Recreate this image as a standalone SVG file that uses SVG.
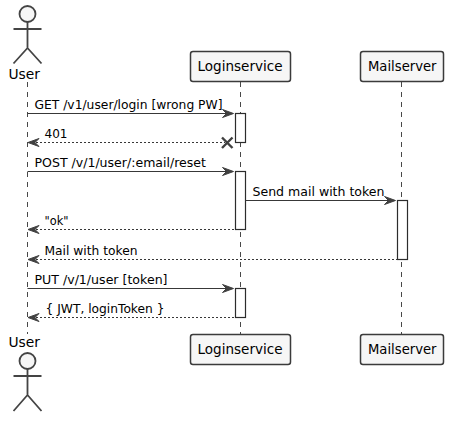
<svg xmlns="http://www.w3.org/2000/svg" width="453" height="421" viewBox="0 0 453 421">
<style>
text{font-family:"DejaVu Sans",sans-serif;fill:#000}
.p{font-size:14px}
.m{font-size:13px}
.life{stroke:#333;stroke-width:.9;stroke-dasharray:5,5;fill:none}
.pb{fill:#f6f6f6;stroke:#3b3b3b;stroke-width:1.5}
.act{fill:#fff;stroke:#2c2c2c;stroke-width:1.2}
.fig{fill:none;stroke:#444;stroke-width:1.8}
.head{fill:#f6f6f6;stroke:#444;stroke-width:1.8}
.sol{stroke:#383838;stroke-width:1.1;fill:none}
.dash{stroke:#383838;stroke-width:1;stroke-dasharray:2,2;fill:none}
.ah{fill:#404040;stroke:#404040;stroke-width:1}
</style>
<defs>
<path id="r" d="M-11,-4 L0,0 L-11,4 L-7,0 Z"/>
<path id="l" d="M11,-4 L0,0 L11,4 L7,0 Z"/>
</defs>
<g id="lifelines">
<path class="life" d="M27.5,82V334M240.5,82V334M401.5,82V334"/>
</g>
<g id="activations">
<rect class="act" x="235.5" y="113.5" width="10" height="29"/>
<rect class="act" x="235.5" y="171.5" width="10" height="58"/>
<rect class="act" x="397.5" y="200.5" width="10" height="59"/>
<rect class="act" x="235.5" y="288.5" width="10" height="29"/>
</g>
<g id="connectors">
<path class="sol" d="M27.5,113.5H233"/><use href="#r" class="ah" x="233.5" y="113.5"/>
<path class="dash" d="M32,142.5H225"/><use href="#l" class="ah" x="28" y="142.5"/>
<path d="M222,137.5L232.5,148M232.5,137.5L222,148" fill="none" stroke="#404040" stroke-width="2.4"/>
<path class="sol" d="M27.5,171.5H233"/><use href="#r" class="ah" x="233.5" y="171.5"/>
<path class="sol" d="M245.5,200.5H395"/><use href="#r" class="ah" x="395.5" y="200.5"/>
<path class="dash" d="M32,229.5H235.5"/><use href="#l" class="ah" x="28" y="229.5"/>
<path class="dash" d="M32,259.5H397.5"/><use href="#l" class="ah" x="28" y="259.5"/>
<path class="sol" d="M27.5,288.5H233"/><use href="#r" class="ah" x="233.5" y="288.5"/>
<path class="dash" d="M32,317.5H235.5"/><use href="#l" class="ah" x="28" y="317.5"/>
</g>
<g id="labels">
<text class="m" x="34.5" y="108.5" textLength="188" lengthAdjust="spacingAndGlyphs">GET /v1/user/login [wrong PW]</text>
<text class="m" x="44.5" y="137.5" textLength="23" lengthAdjust="spacingAndGlyphs">401</text>
<text class="m" x="34.5" y="166.5" textLength="171.5" lengthAdjust="spacingAndGlyphs">POST /v/1/user/:email/reset</text>
<text class="m" x="252.5" y="195.5" textLength="132" lengthAdjust="spacingAndGlyphs">Send mail with token</text>
<text class="m" x="44.5" y="224.5" textLength="24" lengthAdjust="spacingAndGlyphs">"ok"</text>
<text class="m" x="44.5" y="254.5" textLength="93" lengthAdjust="spacingAndGlyphs">Mail with token</text>
<text class="m" x="34.5" y="283.5" textLength="133" lengthAdjust="spacingAndGlyphs">PUT /v/1/user [token]</text>
<text class="m" x="45.5" y="312.5" textLength="119" lengthAdjust="spacingAndGlyphs">{ JWT, loginToken }</text>
</g>
<g id="user-top">
<circle class="head" cx="27.5" cy="14" r="8"/>
<path class="fig" d="M27.5,22V48M13.5,29H41.5M27.5,48L13.5,63.5M27.5,48L41.5,63.5"/>
<text class="p" x="8.5" y="79" textLength="31.5" lengthAdjust="spacingAndGlyphs">User</text>
</g>
<g id="loginservice-top">
<rect class="pb" x="190.5" y="51.5" width="100" height="30" rx="2.5"/>
<text class="p" x="197.5" y="71" textLength="85" lengthAdjust="spacingAndGlyphs">Loginservice</text>
</g>
<g id="mailserver-top">
<rect class="pb" x="360.5" y="51.5" width="83" height="30" rx="2.5"/>
<text class="p" x="368" y="71" textLength="68.5" lengthAdjust="spacingAndGlyphs">Mailserver</text>
</g>
<g id="user-bottom">
<text class="p" x="8.5" y="347" textLength="31.5" lengthAdjust="spacingAndGlyphs">User</text>
<circle class="head" cx="27.5" cy="361" r="8"/>
<path class="fig" d="M27.5,369V395M13.5,376H41.5M27.5,395L13.5,411M27.5,395L41.5,411"/>
</g>
<g id="loginservice-bottom">
<rect class="pb" x="190.5" y="334.5" width="100" height="30" rx="2.5"/>
<text class="p" x="197.5" y="354" textLength="85" lengthAdjust="spacingAndGlyphs">Loginservice</text>
</g>
<g id="mailserver-bottom">
<rect class="pb" x="360.5" y="334.5" width="83" height="30" rx="2.5"/>
<text class="p" x="368" y="354" textLength="68.5" lengthAdjust="spacingAndGlyphs">Mailserver</text>
</g>
</svg>
